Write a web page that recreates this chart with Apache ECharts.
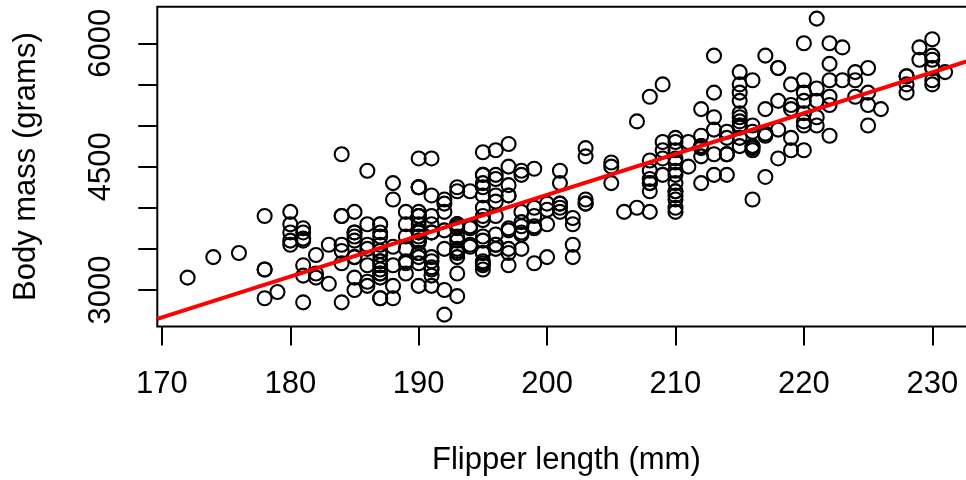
<!DOCTYPE html>
<html>
<head>
<meta charset="utf-8">
<script src="https://cdn.jsdelivr.net/npm/echarts@6/dist/echarts.min.js"></script>
<style>
html,body{margin:0;padding:0;background:#fff;}
#chart{width:966px;height:480px;}
</style>
</head>
<body>
<div id="chart"></div>
<script>
// Flipper length (mm) of each penguin, in row order
const flipperLength = [
181,186,195,193,190,181,195,193,190,186,180,182,191,198,185,195,197,184,194,
174,180,189,185,180,187,183,187,172,180,
178,178,188,184,195,196,190,180,181,184,182,195,186,196,185,190,182,179,190,191,
186,188,190,200,187,191,186,193,181,194,185,195,185,192,184,192,195,188,
190,198,190,190,196,197,190,195,191,184,187,195,189,196,187,193,
191,194,190,189,189,190,202,205,185,186,187,208,190,196,178,192,
192,203,183,190,193,184,199,190,181,197,198,191,193,197,191,196,
188,199,189,189,187,198,176,202,186,199,191,195,191,210,190,197,
193,199,187,190,191,200,185,193,193,187,188,190,192,185,190,184,195,193,187,201,
211,230,210,218,215,210,211,219,209,215,214,216,214,213,210,217,210,221,209,222,
218,215,213,215,215,215,216,215,210,220,222,209,207,230,220,220,213,219,208,208,
208,225,210,216,222,217,210,225,213,215,210,220,210,225,217,220,208,220,208,224,
208,221,214,231,219,230,214,229,220,223,216,221,221,217,216,230,209,220,215,223,
212,221,212,224,212,228,218,218,212,230,218,228,212,224,214,226,216,222,203,225,
219,228,215,228,216,215,210,219,208,209,216,229,213,230,217,230,217,222,214,
215,222,212,213,
192,196,193,188,197,198,178,197,195,198,193,194,185,201,190,201,197,181,190,195,
181,191,187,193,195,197,200,200,191,205,187,201,187,203,195,199,195,210,192,205,
210,187,196,196,196,201,190,212,187,198,199,201,193,203,187,197,191,203,202,194,
206,189,195,207,202,193,210,198
];
// Body mass (grams) of each penguin, same order
const bodyMass = [
3750,3800,3250,3450,3650,3625,4675,3475,4250,3300,3700,3200,3800,4400,3700,3450,4500,3325,4200,
3400,3600,3800,3950,3800,3800,3550,3200,3150,3950,
3250,3900,3300,3900,3325,4150,3950,3550,3300,4650,3150,3900,3100,4400,3000,4600,3425,2975,3450,4150,
3500,4300,3450,4050,2900,3700,3550,3800,2850,3750,3150,4400,3600,4050,2850,3950,3350,4100,
3050,4450,3600,3900,3550,4150,3700,4250,3700,3900,3550,4000,3200,4700,3800,4200,
3350,3550,3800,3500,3950,3600,3550,4300,3400,4450,3300,4300,3700,4350,2900,4100,
3725,4725,3075,4250,2925,3550,3750,3900,3175,4775,3825,4600,3200,4275,3900,4075,
2900,3775,3350,3325,3150,3500,3450,3875,3050,4000,3275,4300,3050,4000,3325,3500,
3500,4475,3425,3900,3175,3975,3400,4250,3400,3475,3050,3725,3000,3650,4250,3475,3450,3750,3700,4000,
4500,5700,4450,5700,5400,4550,4800,5200,4400,5150,4650,5550,4650,5850,4200,5850,4150,6300,4800,5350,
5700,5000,4400,5050,5000,5100,4100,5650,4600,5550,5250,4700,5050,6050,5150,5400,4950,5250,4350,5350,
3950,5700,4300,4750,5550,4900,4200,5400,5100,5300,4850,5300,4400,5000,4900,5050,4300,5000,4450,5550,
4200,5300,4400,5650,4700,5700,4650,5800,4700,5550,4750,5000,5100,5200,4700,5800,4600,6000,4750,5950,
4625,5450,4725,5350,4750,5600,4600,5300,4875,5550,4950,5400,4750,5650,4850,5200,4925,4875,4625,5250,
4850,5600,4975,5500,4725,5500,4700,5500,4575,5500,5000,5950,4650,5500,4375,5850,4875,6000,4925,
4850,5750,5200,5400,
3500,3900,3650,3525,3725,3950,3250,3750,4150,3700,3800,3775,3700,4050,3575,4050,3300,3700,3450,4400,
3600,3400,2900,3800,3300,4150,3400,3800,3700,4550,3200,4300,3350,4100,3600,3900,3850,4800,2700,4500,
3950,3650,3550,3500,3675,4450,3400,4300,3250,3675,3325,3950,3600,4050,3350,3450,3250,4050,3800,3525,
3950,3650,3650,4000,3400,3775,4100,3775
];
// Axis ticks and labels
const xTicks = [170,180,190,200,210,220,230];
const yTicks = [3000,3500,4000,4500,5000,5500,6000];
const yLabels = [3000,4500,6000];
const xTitle = 'Flipper length (mm)';
const yTitle = 'Body mass (grams)';

// R-style axis ranges (data range extended by 4%)
function rRange(a){
  const lo = Math.min.apply(null,a), hi = Math.max.apply(null,a);
  const d = (hi-lo)*0.04; return [lo-d, hi+d];
}
const xr = rRange(flipperLength), yr = rRange(bodyMass);

// least-squares fit
const n = flipperLength.length;
let mx=0,my=0; for(let i=0;i<n;i++){mx+=flipperLength[i];my+=bodyMass[i];} mx/=n; my/=n;
let sxy=0,sxx=0; for(let i=0;i<n;i++){sxy+=(flipperLength[i]-mx)*(bodyMass[i]-my);sxx+=(flipperLength[i]-mx)**2;}
const slope = sxy/sxx, intercept = my - slope*mx;

const points = flipperLength.map((f,i)=>[f, bodyMass[i]]);
const fitLine = [[xr[0], intercept+slope*xr[0]],[xr[1], intercept+slope*xr[1]]];

const FONT = '"Liberation Sans", Arial, Helvetica, sans-serif';
const FS = 31;
const chart = echarts.init(document.getElementById('chart'), null, {renderer:'canvas'});
chart.setOption({
  animation:false,
  backgroundColor:'#ffffff',
  grid:{left:157.3, top:6.8, right:-9.4, bottom:153.5, show:true, borderColor:'#000', borderWidth:2,
        backgroundColor:'transparent', containLabel:false, outerBoundsMode:'none'},
  xAxis:{
    type:'value', min:xr[0], max:xr[1],
    axisLine:{show:false}, splitLine:{show:false},
    axisTick:{show:true, length:19, lineStyle:{color:'#000', width:2}, customValues:xTicks},
    axisLabel:{customValues:xTicks, fontSize:FS, color:'#000', fontFamily:FONT, margin:42,
               formatter:v=>String(v)},
    name:xTitle, nameLocation:'middle', nameGap:118,
    nameTextStyle:{fontSize:FS, color:'#000', fontFamily:FONT}
  },
  yAxis:{
    type:'value', min:yr[0], max:yr[1],
    axisLine:{show:false}, splitLine:{show:false},
    axisTick:{show:true, length:19, lineStyle:{color:'#000', width:2}, customValues:yTicks},
    axisLabel:{customValues:yLabels, rotate:90, fontSize:FS, color:'#000', fontFamily:FONT, margin:40,
               formatter:v=>String(v)},
    name:yTitle, nameLocation:'middle', nameGap:115,
    nameTextStyle:{fontSize:FS, color:'#000', fontFamily:FONT}
  },
  series:[
    {type:'scatter', data:points, symbol:'circle', symbolSize:14,
     itemStyle:{color:'rgba(0,0,0,0)', borderColor:'#000', borderWidth:2.1, opacity:1},
     emphasis:{disabled:true}, silent:true, z:2},
    {type:'line', data:fitLine, showSymbol:false, symbol:'none',
     lineStyle:{color:'#ff0000', width:4}, emphasis:{disabled:true}, silent:true, z:3}
  ]
});
</script>
</body>
</html>
